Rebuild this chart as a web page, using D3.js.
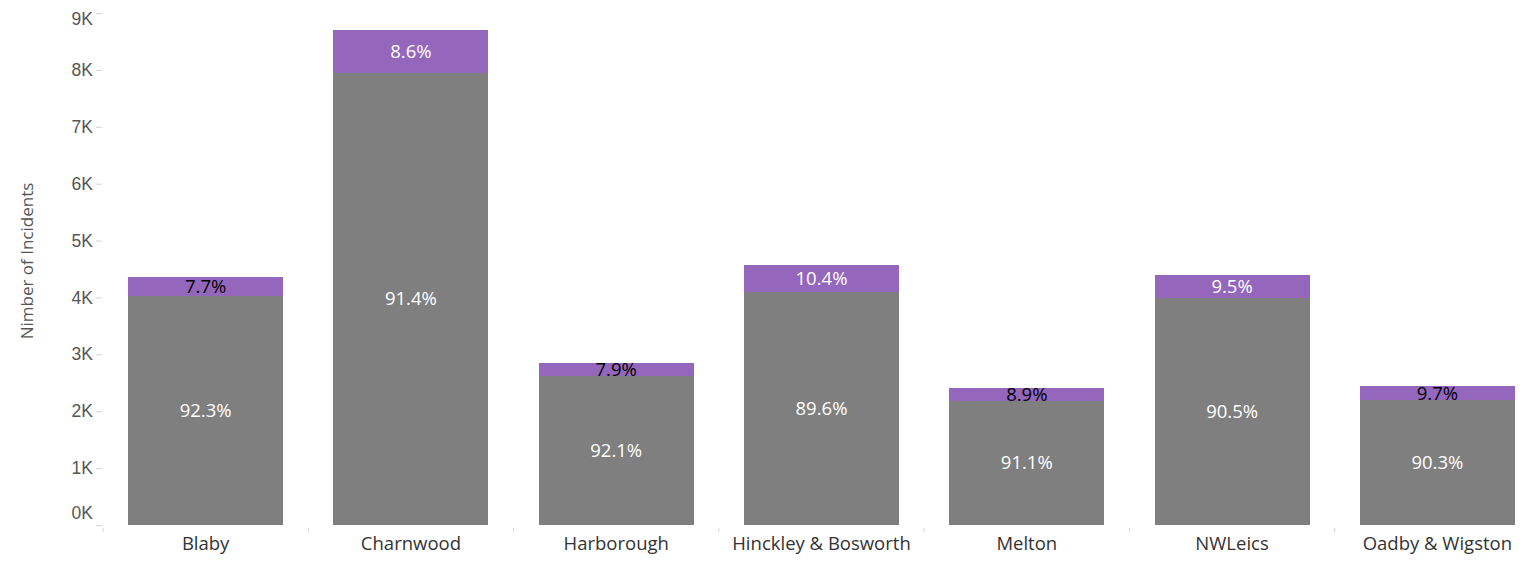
<!DOCTYPE html>
<html>
<head>
<meta charset="utf-8">
<script src="https://cdn.jsdelivr.net/npm/d3@7"></script>
<style>
  body { margin: 0; background: #fff; }
  svg { font-family: "Open Sans", sans-serif; }
</style>
</head>
<body>
<div id="chart"></div>
<script>
// Data
var districts = ["Blaby", "Charnwood", "Harborough", "Hinckley & Bosworth", "Melton", "NWLeics", "Oadby & Wigston"];
var greyCounts = [4025, 7952, 2620, 4095, 2186, 3982, 2199];
var purpleCounts = [334, 748, 225, 475, 214, 418, 236];
var greyLabels = ["92.3%", "91.4%", "92.1%", "89.6%", "91.1%", "90.5%", "90.3%"];
var purpleLabels = ["7.7%", "8.6%", "7.9%", "10.4%", "8.9%", "9.5%", "9.7%"];
var yTicks = [0, 1000, 2000, 3000, 4000, 5000, 6000, 7000, 8000, 9000];

var svgWidth = 1540;
var svgHeight = 565;
var margin = { top: 13, right: 0, bottom: 40, left: 103 };
var width = svgWidth - margin.left - margin.right;
var height = svgHeight - margin.top - margin.bottom;

var svg = d3.select("#chart")
  .append("svg")
  .attr("width", svgWidth)
  .attr("height", svgHeight);

var chartGroup = svg.append("g")
  .attr("transform", `translate(${margin.left}, ${margin.top})`);

// scales
var xBandScale = d3.scaleBand()
  .domain(districts)
  .range([0, width])
  .paddingInner(0.245)
  .paddingOuter(0.1225);

var yLinearScale = d3.scaleLinear()
  .domain([0, 9000])
  .range([height, 0]);

// y axis
var leftAxis = d3.axisLeft(yLinearScale)
  .tickValues(yTicks)
  .tickSize(6)
  .tickPadding(3)
  .tickFormat(d => (d / 1000) + "K");

var yAxis = chartGroup.append("g")
  .attr("transform", "translate(-1, 0)")
  .call(leftAxis);
yAxis.select(".domain").remove();
yAxis.selectAll("line").attr("stroke", "#d4d4d4");
yAxis.selectAll("text")
  .attr("fill", "#555")
  .style("font-size", "17.5px")
  .attr("dy", function(d) {
    // tableau keeps the end labels inside the axis range
    if (d === 0) return "-0.38em";
    if (d === 9000) return "0.68em";
    return "0.32em";
  });

// small separators between the districts
var step = xBandScale.step();
var sepData = districts.map((d, i) => xBandScale(d) - xBandScale.paddingInner() * step / 2);
chartGroup.selectAll(".sep")
  .data(sepData)
  .enter()
  .append("line")
  .classed("sep", true)
  .attr("x1", d => d)
  .attr("x2", d => d)
  .attr("y1", height + 3)
  .attr("y2", height + 7)
  .attr("stroke", "#d4d4d4");

// x labels
chartGroup.selectAll(".xLabel")
  .data(districts)
  .enter()
  .append("text")
  .classed("xLabel", true)
  .attr("x", d => xBandScale(d) + xBandScale.bandwidth() / 2)
  .attr("y", height + 25)
  .attr("text-anchor", "middle")
  .attr("fill", "#333")
  .style("font-size", "18.5px")
  .text(d => d);

// stacked bars
var barData = districts.map(function(d, i) {
  return {
    name: d,
    grey: greyCounts[i],
    purple: purpleCounts[i],
    greyLabel: greyLabels[i],
    purpleLabel: purpleLabels[i]
  };
});

chartGroup.selectAll(".greyBar")
  .data(barData)
  .enter()
  .append("rect")
  .classed("greyBar", true)
  .attr("x", d => xBandScale(d.name))
  .attr("width", xBandScale.bandwidth())
  .attr("y", d => yLinearScale(d.grey))
  .attr("height", d => height - yLinearScale(d.grey))
  .attr("fill", "#7f7f7f")
  .attr("shape-rendering", "crispEdges");

chartGroup.selectAll(".purpleBar")
  .data(barData)
  .enter()
  .append("rect")
  .classed("purpleBar", true)
  .attr("x", d => xBandScale(d.name))
  .attr("width", xBandScale.bandwidth())
  .attr("y", d => yLinearScale(d.grey + d.purple))
  .attr("height", d => yLinearScale(d.grey) - yLinearScale(d.grey + d.purple))
  .attr("fill", "#9467bd")
  .attr("shape-rendering", "crispEdges");

// segment labels
chartGroup.selectAll(".greyText")
  .data(barData)
  .enter()
  .append("text")
  .classed("greyText", true)
  .attr("x", d => xBandScale(d.name) + xBandScale.bandwidth() / 2)
  .attr("y", d => (yLinearScale(d.grey) + height) / 2)
  .attr("dy", "0.35em")
  .attr("text-anchor", "middle")
  .attr("fill", "#fff")
  .style("font-size", "18.5px")
  .text(d => d.greyLabel);

chartGroup.selectAll(".purpleText")
  .data(barData)
  .enter()
  .append("text")
  .classed("purpleText", true)
  .attr("x", d => xBandScale(d.name) + xBandScale.bandwidth() / 2)
  .attr("y", d => (yLinearScale(d.grey) + yLinearScale(d.grey + d.purple)) / 2)
  .attr("dy", "0.35em")
  .attr("text-anchor", "middle")
  .attr("fill", function(d) {
    var h = yLinearScale(d.grey) - yLinearScale(d.grey + d.purple);
    return h < 21 ? "#000" : "#fff";
  })
  .style("font-size", "18.5px")
  .text(d => d.purpleLabel);

// y axis title
chartGroup.append("text")
  .attr("transform", "rotate(-90)")
  .attr("x", 0 - 248)
  .attr("y", 0 - margin.left + 33)
  .attr("text-anchor", "middle")
  .attr("fill", "#555")
  .style("font-size", "17px")
  .text("Nimber of Incidents");
</script>
</body>
</html>
